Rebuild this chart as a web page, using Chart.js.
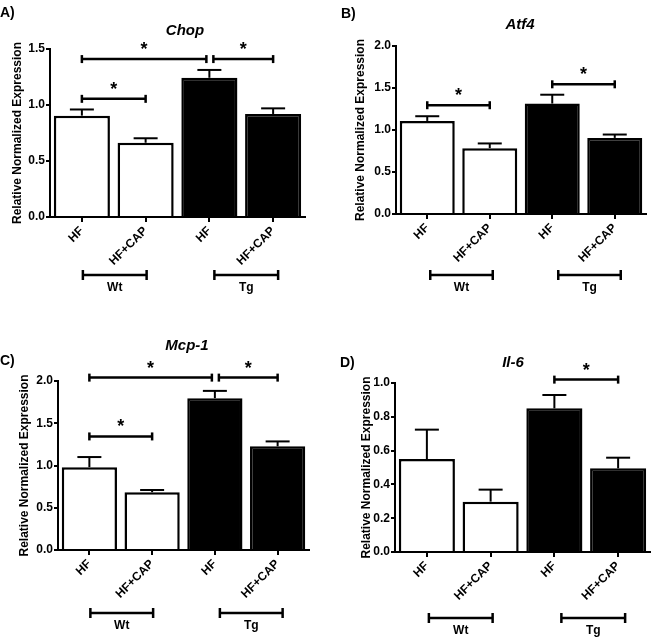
<!DOCTYPE html>
<html>
<head>
<meta charset="utf-8">
<script src="https://cdn.jsdelivr.net/npm/chart.js@4/dist/chart.umd.min.js"></script>
<style>
  body { margin: 0; background: #fff; }
  #wrap { position: relative; width: 656px; height: 639px; }
  canvas { position: absolute; }
</style>
</head>
<body>
<div id="wrap">
  <canvas id="chA" width="328" height="320" style="left:0;top:0"></canvas>
  <canvas id="chB" width="328" height="320" style="left:328px;top:0"></canvas>
  <canvas id="chC" width="328" height="319" style="left:0;top:320px"></canvas>
  <canvas id="chD" width="328" height="319" style="left:328px;top:320px"></canvas>
</div>
<script>
// data
const groups = ['HF', 'HF+CAP', 'HF', 'HF+CAP'];
const strains = ['Wt', 'Tg'];

const chopMean = [0.905, 0.663, 1.243, 0.92];
const chopSem = [0.055, 0.04, 0.07, 0.05];
const chopTicks = [0, 0.5, 1.0, 1.5];
const chopSig = [[0, 2, 1.41], [2, 3, 1.41], [0, 1, 1.055]];

const atf4Mean = [1.108, 0.784, 1.315, 0.906];
const atf4Sem = [0.056, 0.056, 0.105, 0.04];
const atf4Ticks = [0, 0.5, 1.0, 1.5, 2.0];
const atf4Sig = [[0, 1, 1.295], [2, 3, 1.544]];

const mcp1Mean = [0.98, 0.684, 1.797, 1.227];
const mcp1Sem = [0.12, 0.026, 0.086, 0.058];
const mcp1Ticks = [0, 0.5, 1.0, 1.5, 2.0];
const mcp1Sig = [[0, 2, 2.04], [2, 3, 2.04], [0, 1, 1.344]];

const il6Mean = [0.55, 0.298, 0.85, 0.495];
const il6Sem = [0.174, 0.071, 0.079, 0.063];
const il6Ticks = [0, 0.2, 0.4, 0.6, 0.8, 1.0];
const il6Sig = [[2, 3, 1.02]];

const FONT = '"Liberation Sans", Arial, sans-serif';

function line(ctx, x1, y1, x2, y2) {
  ctx.beginPath(); ctx.moveTo(x1, y1); ctx.lineTo(x2, y2); ctx.stroke();
}

function makeAnnot(p) {
  return {
    id: 'annot',
    afterDatasetsDraw(chart) {
      const { ctx, scales: { x, y } } = chart;
      const bars = chart.getDatasetMeta(0).data;
      ctx.save();
      ctx.strokeStyle = '#000';
      ctx.fillStyle = '#000';
      ctx.lineWidth = 2;

      // upper error bars
      bars.forEach((bar, i) => {
        const top = y.getPixelForValue(p.mean[i] + p.sem[i]);
        line(ctx, bar.x, bar.y, bar.x, top);
        line(ctx, bar.x - 12, top, bar.x + 12, top);
      });

      // significance brackets
      ctx.lineWidth = 2.5;
      p.sig.forEach(([a, b, v]) => {
        const yy = y.getPixelForValue(v);
        let x1 = x.getPixelForValue(a), x2 = x.getPixelForValue(b);
        if (p.sig.some(s => s[0] === b && s[2] === v)) x2 -= 3;
        if (p.sig.some(s => s[1] === a && s[2] === v)) x1 += 4;
        line(ctx, x1, yy, x2, yy);
        line(ctx, x1, yy - 4, x1, yy + 4);
        line(ctx, x2, yy - 4, x2, yy + 4);
        ctx.font = 'bold 18px ' + FONT;
        ctx.textAlign = 'center';
        ctx.textBaseline = 'alphabetic';
        ctx.fillText('*', (x1 + x2) / 2, yy - 4);
      });

      // strain brackets under the axis
      strains.forEach((s, k) => {
        const x1 = x.getPixelForValue(2 * k) + p.gShift[k];
        const x2 = x.getPixelForValue(2 * k + 1) + p.gShift[k];
        line(ctx, x1, p.gY, x2, p.gY);
        line(ctx, x1, p.gY - 5, x1, p.gY + 5);
        line(ctx, x2, p.gY - 5, x2, p.gY + 5);
        ctx.font = 'bold 12px ' + FONT;
        ctx.textAlign = 'center';
        ctx.textBaseline = 'middle';
        ctx.fillText(s, (x1 + x2) / 2, p.gY + 13);
      });

      // gene title and panel letter
      ctx.textBaseline = 'alphabetic';
      ctx.font = 'italic bold 15px ' + FONT;
      ctx.textAlign = 'center';
      ctx.fillText(p.title, p.titleX, p.titleY);
      ctx.font = 'bold 14px ' + FONT;
      ctx.textAlign = 'left';
      ctx.fillText(p.letter, p.letterX, p.letterY);
      ctx.restore();
    }
  };
}

const panels = [
  { id: 'chA', letter: 'A)', title: 'Chop', mean: chopMean, sem: chopSem, ticks: chopTicks, sig: chopSig,
    titleX: 185, titleY: 35, letterX: 0, letterY: 17, top: 49, right: 23, xH: 103, yW: 50, yPad: 11,
    gY: 275, gShift: [1, 5] },
  { id: 'chB', letter: 'B)', title: 'Atf4', mean: atf4Mean, sem: atf4Sem, ticks: atf4Ticks, sig: atf4Sig,
    titleX: 192, titleY: 29, letterX: 13, letterY: 18, top: 46, right: 10, xH: 106, yW: 68, yPad: 26,
    gY: 275, gShift: [3, 6] },
  { id: 'chC', letter: 'C)', title: 'Mcp-1', mean: mcp1Mean, sem: mcp1Sem, ticks: mcp1Ticks, sig: mcp1Sig,
    titleX: 187, titleY: 30, letterX: 0, letterY: 45, top: 61, right: 19, xH: 89, yW: 58, yPad: 18,
    gY: 293, gShift: [1, 5] },
  { id: 'chD', letter: 'D)', title: 'Il-6', mean: il6Mean, sem: il6Sem, ticks: il6Ticks, sig: il6Sig,
    titleX: 185, titleY: 47, letterX: 12, letterY: 47, top: 63, right: 6, xH: 87, yW: 67, yPad: 32,
    gY: 298, gShift: [2, 7] }
];

panels.forEach((p) => {
  const ticks = p.ticks;
  new Chart(document.getElementById(p.id), {
    type: 'bar',
    data: {
      labels: groups,
      datasets: [{
        data: p.mean,
        backgroundColor: ['#fff', '#fff', '#000', '#000'],
        borderColor: '#000',
        borderWidth: 2.5,
        barPercentage: 0.88,
        categoryPercentage: 1
      }]
    },
    options: {
      responsive: false,
      animation: false,
      layout: { padding: { top: p.top, right: p.right, left: 0, bottom: 0 } },
      plugins: { legend: { display: false }, tooltip: { enabled: false } },
      scales: {
        x: {
          offset: true,
          grid: { display: true, drawOnChartArea: false, offset: false, tickLength: 5, color: '#000', lineWidth: 2 },
          border: { display: true, color: '#000', width: 2 },
          ticks: {
            color: '#000', autoSkip: false, minRotation: 45, maxRotation: 45, padding: 2,
            font: { family: FONT, size: 12, weight: 'bold' }
          },
          afterFit: (s) => { s.height = p.xH; }
        },
        y: {
          min: ticks[0],
          max: ticks[ticks.length - 1],
          afterBuildTicks: (s) => { s.ticks = ticks.map(v => ({ value: v })); },
          grid: { display: true, drawOnChartArea: false, tickLength: 4, color: '#000', lineWidth: 2 },
          border: { display: true, color: '#000', width: 2 },
          ticks: {
            color: '#000', padding: 1,
            font: { family: FONT, size: 12, weight: 'bold' },
            callback: (v) => Number(v).toFixed(1)
          },
          title: {
            display: true, text: 'Relative Normalized Expression', color: '#000',
            padding: { top: p.yPad - 1, bottom: 0 },
            font: { family: FONT, size: 12, weight: 'bold' }
          },
          afterFit: (s) => { s.width = p.yW; }
        }
      }
    },
    plugins: [makeAnnot(p)]
  });
});
</script>
</body>
</html>
